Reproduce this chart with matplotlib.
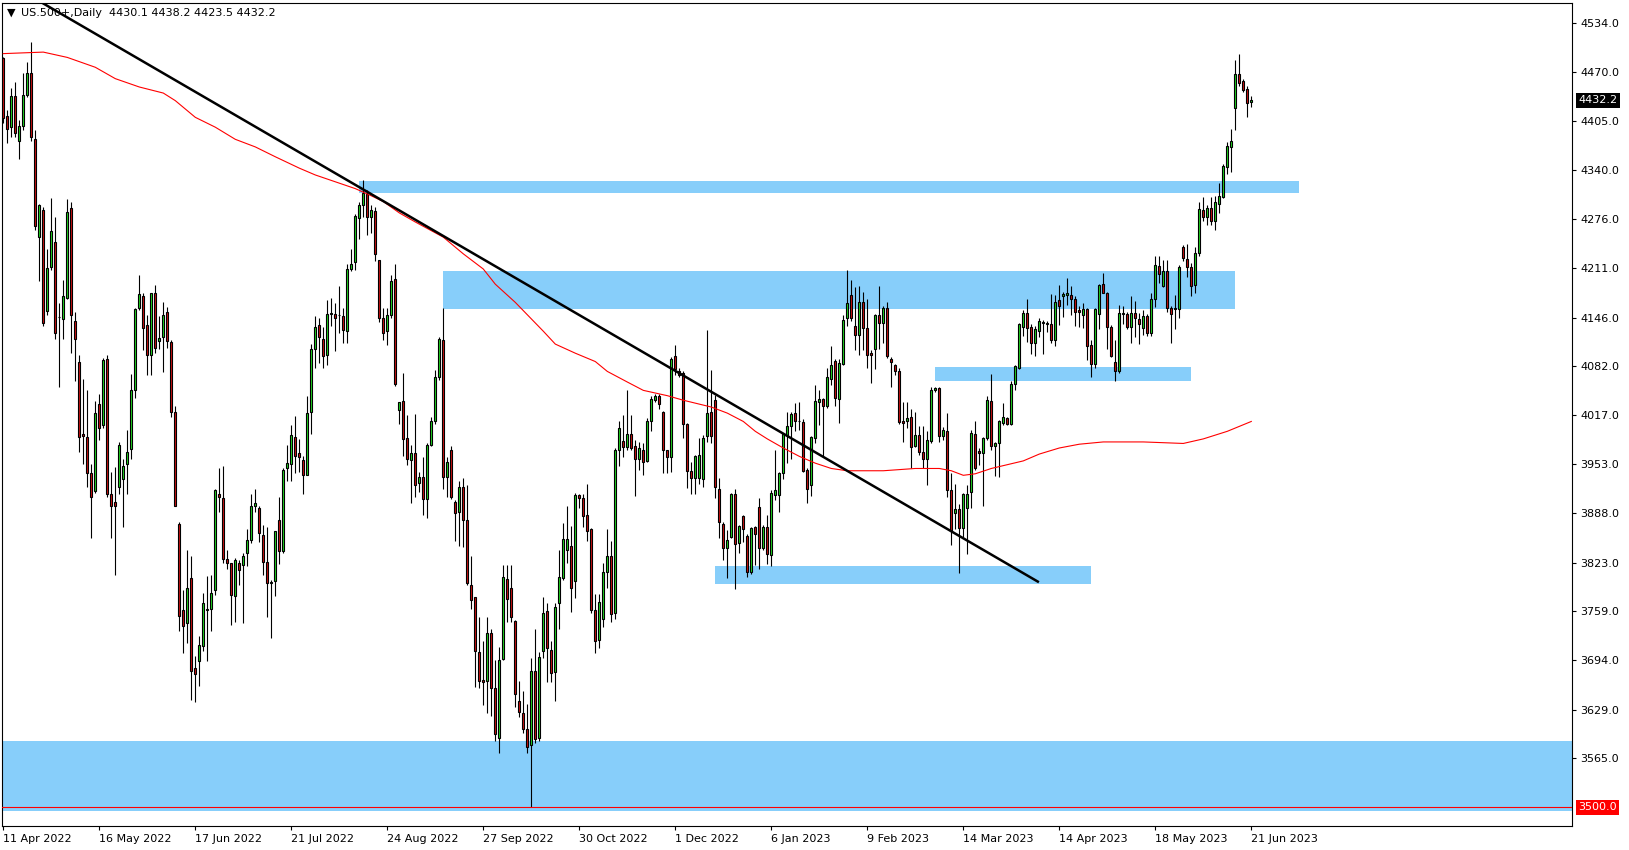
import matplotlib
matplotlib.use("Agg")
import matplotlib.pyplot as plt
import numpy as np
from matplotlib.patches import Rectangle
from matplotlib.transforms import blended_transform_factory

# ---------------- data ----------------
opens = [
    4488, 4412, 4397, 4438, 4379, 4399, 4439, 4469, 4382, 4252,
    4288, 4154, 4213, 4246, 4147, 4144, 4172, 4291, 4142, 4088,
    3993, 3989, 3941, 3917, 4032, 4004, 4092, 3914, 3903, 3923,
    3933, 3953, 3973, 4050, 4158, 4175, 4136, 4097, 4179, 4115,
    4120, 4153, 4114, 4022, 3874, 3760, 3743, 3802, 3684, 3693,
    3713, 3761, 3762, 3787, 3914, 3908, 3827, 3822, 3779, 3822,
    3820, 3836, 3853, 3898, 3895, 3859, 3824, 3796, 3798, 3879,
    3838, 3947, 3953, 3988, 3967, 3958, 3939, 4021, 4105, 4136,
    4118, 4096, 4151, 4151, 4150, 4148, 4128, 4210, 4219, 4277,
    4295, 4309, 4279, 4287, 4222, 4146, 4128, 4149, 4197, 4024,
    4036, 3987, 3958, 3967, 3928, 3936, 3907, 3978, 4009, 4067,
    4117, 3936, 3971, 3903, 3890, 3922, 3879, 3793, 3777, 3705,
    3668, 3667, 3730, 3658, 3592, 3696, 3801, 3790, 3746, 3640,
    3624, 3603, 3582, 3680, 3592, 3707, 3759, 3708, 3678, 3770,
    3803, 3840, 3845, 3798, 3912, 3908, 3886, 3867, 3760, 3721,
    3749, 3811, 3831, 3757, 3972, 3983, 3975, 3992, 3976, 3960,
    3972, 3957, 4010, 4037, 4043, 4021, 3971, 3962, 4095, 4076,
    4073, 4005, 3944, 3935, 3935, 3933, 3990, 4022, 4037, 3920,
    3874, 3842, 3856, 3914, 3849, 3884, 3858, 3811, 3870, 3896,
    3842, 3870, 3833, 3912, 3912, 3941, 3991, 4003, 4020, 4010,
    4008, 3945, 3925, 3987, 4035, 4038, 4029, 4065, 4089, 4038,
    4085, 4145, 4176, 4135, 4123, 4166, 4132, 4099, 4104, 4149,
    4139, 4158, 4092, 4083, 4076, 4009, 4009, 4015, 3976, 3991,
    3969, 3959, 3983, 4050, 4053, 3990, 3996, 3919, 3888, 3893,
    3869, 3895, 3916, 3993, 3970, 3967, 3987, 4036, 3977, 3981,
    4007, 4014, 4006, 4058, 4080, 4134, 4152, 4133, 4113, 4128,
    4139, 4138, 4138, 4117, 4169, 4174, 4176, 4176, 4171, 4156,
    4149, 4157, 4110, 4085, 4151, 4190, 4179, 4133, 4087, 4076,
    4151, 4151, 4133, 4152, 4144, 4132, 4148, 4125, 4170, 4214,
    4188, 4208, 4158, 4158, 4157, 4239, 4223, 4212, 4189, 4231,
    4288, 4279, 4291, 4273, 4296, 4305, 4344, 4371, 4422, 4467,
    4458, 4448, 4430.1,
]
highs = [
    4490, 4420, 4449, 4456, 4406, 4468, 4483, 4509, 4393, 4296,
    4292, 4236, 4303, 4278, 4165, 4195, 4302, 4299, 4153, 4097,
    4065, 4050, 3953, 4036, 4045, 4093, 4096, 3943, 3949, 3982,
    3960, 3998, 4072, 4159, 4202, 4179, 4150, 4179, 4189, 4148,
    4166, 4160, 4116, 4030, 3876, 3787, 3840, 3832, 3700, 3726,
    3783, 3805, 3806, 3920, 3947, 3950, 3840, 3823, 3829, 3826,
    3835, 3867, 3913, 3920, 3898, 3872, 3870, 3800, 3865, 3910,
    3948, 3978, 4004, 4016, 3986, 3964, 4042, 4111, 4148, 4146,
    4133, 4169, 4172, 4165, 4188, 4158, 4216, 4236, 4282, 4299,
    4328, 4314, 4295, 4292, 4222, 4158, 4158, 4202, 4217, 4035,
    4073, 4017, 3978, 4019, 3943, 3962, 3981, 4015, 4077, 4121,
    4158, 3962, 3977, 3905, 3930, 3934, 3925, 3832, 3777, 3751,
    3719, 3751, 3735, 3694, 3711, 3820, 3820, 3820, 3747, 3667,
    3654, 3637, 3697, 3735, 3705, 3778, 3770, 3719, 3770, 3839,
    3875, 3898, 3871, 3915, 3914, 3914, 3927, 3868, 3782, 3782,
    3822, 3867, 3851, 3974, 4010, 4018, 4051, 4018, 3985, 3982,
    3980, 4013, 4042, 4045, 4045, 4023, 3971, 4094, 4110, 4079,
    4075, 4007, 3956, 3965, 3987, 3991, 4130, 4077, 4044, 3934,
    3877, 3866, 3915, 3920, 3873, 3886, 3861, 3870, 3871, 3908,
    3872, 3886, 3918, 3972, 3943, 3994, 4021, 4022, 4033, 4034,
    4012, 3947, 3990, 4057, 4050, 4040, 4080, 4109, 4092, 4092,
    4149, 4209, 4195, 4186, 4188, 4180, 4170, 4103, 4151, 4187,
    4161, 4167, 4094, 4085, 4079, 4034, 4034, 4025, 4022, 4003,
    4003, 3996, 4054, 4054, 4055, 4002, 4020, 3941, 3927, 3900,
    3915, 3925, 3998, 4009, 3974, 3989, 4043, 4072, 3982, 4011,
    4033, 4015, 4062, 4083, 4139, 4156, 4171, 4137, 4135, 4145,
    4143, 4142, 4177, 4176, 4189, 4180, 4198, 4188, 4174, 4161,
    4165, 4158, 4117, 4158, 4190, 4205, 4180, 4136, 4117, 4163,
    4161, 4153, 4174, 4168, 4152, 4156, 4151, 4178, 4227, 4227,
    4222, 4222, 4161, 4176, 4215, 4242, 4243, 4218, 4239, 4298,
    4305, 4294, 4305, 4306, 4324, 4348, 4378, 4394, 4486, 4494,
    4461, 4451, 4438.2,
]
lows = [
    4403, 4376, 4384, 4384, 4355, 4393, 4437, 4379, 4261, 4194,
    4135, 4150, 4209, 4118, 4055, 4118, 4170, 4099, 4062, 3969,
    3953, 3923, 3855, 3915, 3985, 4000, 3910, 3855, 3807, 3913,
    3870, 3913, 3960, 4040, 4156, 4103, 4070, 4070, 4099, 4104,
    4074, 4106, 4015, 3897, 3733, 3704, 3717, 3642, 3639, 3660,
    3707, 3693, 3733, 3780, 3890, 3822, 3815, 3740, 3745, 3793,
    3743, 3819, 3849, 3890, 3850, 3806, 3751, 3723, 3779, 3821,
    3835, 3930, 3930, 3941, 3942, 3913, 3938, 3993, 4080, 4086,
    4080, 4083, 4135, 4102, 4126, 4112, 4113, 4207, 4209, 4249,
    4279, 4255, 4257, 4220, 4140, 4117, 4110, 4145, 4056, 4006,
    3964, 3952, 3902, 3910, 3916, 3886, 3882, 3976, 4006, 4064,
    3920, 3910, 3907, 3852, 3845, 3843, 3794, 3762, 3659, 3658,
    3635, 3625, 3621, 3588, 3572, 3694, 3745, 3745, 3633, 3619,
    3598, 3572, 3501, 3585, 3588, 3697, 3666, 3666, 3641, 3736,
    3800, 3823, 3758, 3776, 3895, 3870, 3852, 3756, 3704, 3710,
    3738, 3790, 3744, 3749, 3950, 3962, 3971, 3971, 3911, 3945,
    3938, 3956, 3997, 4035, 4025, 3941, 3941, 3943, 4070, 4068,
    3987, 3921, 3914, 3914, 3927, 3923, 3982, 3980, 3908, 3855,
    3826, 3803, 3855, 3788, 3836, 3850, 3804, 3808, 3820, 3814,
    3840, 3821, 3819, 3905, 3890, 3933, 3954, 3959, 3996, 3998,
    3943, 3901, 3911, 3980, 4004, 3962, 4027, 4057, 4029, 4007,
    4083, 4135, 4142, 4103, 4097, 4103, 4079, 4060, 4078, 4105,
    4112, 4093, 4055, 4070, 4005, 3982, 4000, 3947, 3975, 3965,
    3947, 3925, 3980, 4048, 3982, 3985, 3909, 3846, 3867, 3809,
    3856, 3834, 3895, 3945, 3952, 3897, 3985, 3971, 3937, 3936,
    4004, 4004, 4004, 4051, 4078, 4122, 4114, 4098, 4095, 4121,
    4098, 4127, 4113, 4109, 4136, 4147, 4163, 4150, 4135, 4134,
    4132, 4090, 4068, 4080, 4131, 4178, 4105, 4094, 4062, 4073,
    4138, 4131, 4112, 4121, 4111, 4123, 4122, 4122, 4160, 4191,
    4186, 4153, 4113, 4131, 4145, 4220, 4199, 4175, 4178, 4227,
    4273, 4268, 4268, 4262, 4284, 4303, 4335, 4338, 4393, 4451,
    4443, 4410, 4423.5,
]
closes = [
    4409, 4394, 4438, 4389, 4398, 4440, 4468, 4384, 4267, 4294,
    4139, 4211, 4260, 4126, 4147, 4174, 4285, 4150, 4118, 3989,
    3990, 3941, 3909, 4020, 4000, 4090, 3913, 3898, 3898, 3978,
    3950, 3969, 4050, 4157, 4177, 4132, 4096, 4178, 4106, 4119,
    4150, 4115, 4022, 3898, 3753, 3739, 3789, 3680, 3676, 3714,
    3769, 3762, 3783, 3918, 3909, 3827, 3822, 3780, 3826, 3813,
    3832, 3853, 3898, 3902, 3862, 3824, 3796, 3797, 3864, 3838,
    3945, 3954, 3991, 3964, 3962, 3938, 4020, 4105, 4133, 4121,
    4095, 4151, 4152, 4145, 4149, 4129, 4210, 4217, 4280, 4294,
    4310, 4279, 4288, 4230, 4146, 4126, 4149, 4194, 4058, 4034,
    3986, 3959, 3967, 3925, 3936, 3907, 3978, 4010, 4067, 4118,
    3936, 3956, 3910, 3888, 3923, 3879, 3796, 3773, 3706, 3667,
    3665, 3730, 3658, 3597, 3694, 3804, 3775, 3751, 3650, 3626,
    3604, 3580, 3680, 3590, 3699, 3757, 3710, 3677, 3765, 3804,
    3854, 3854, 3790, 3912, 3908, 3885, 3865, 3760, 3720, 3771,
    3811, 3832, 3755, 3972, 4001, 3975, 3993, 3974, 3960, 3974,
    3956, 4010, 4038, 4043, 4032, 3971, 3962, 4092, 4078, 4070,
    4005, 3944, 3934, 3963, 3965, 3987, 4020, 3990, 3922, 3877,
    3842, 3853, 3913, 3847, 3871, 3867, 3811, 3868, 3861, 3842,
    3870, 3834, 3915, 3918, 3941, 3993, 4003, 4019, 4009, 4009,
    3944, 3920, 3988, 4036, 4038, 4029, 4067, 4083, 4040, 4086,
    4143, 4165, 4146, 4123, 4166, 4132, 4097, 4097, 4149, 4139,
    4158, 4095, 4087, 4076, 4008, 4007, 4014, 3975, 3991, 3969,
    3960, 3984, 4050, 4053, 3990, 3998, 3919, 3864, 3893, 3869,
    3914, 3914, 3994, 3947, 3967, 3987, 4037, 3977, 3981, 4009,
    4015, 4006, 4058, 4082, 4138, 4152, 4132, 4113, 4131, 4141,
    4140, 4139, 4116, 4167, 4161, 4177, 4178, 4171, 4153, 4153,
    4157, 4109, 4085, 4157, 4189, 4179, 4133, 4095, 4075, 4152,
    4152, 4134, 4152, 4145, 4138, 4148, 4126, 4170, 4215, 4204,
    4208, 4158, 4151, 4157, 4212, 4224, 4213, 4188, 4231, 4289,
    4279, 4291, 4273, 4298, 4306, 4346, 4372, 4379, 4467, 4455,
    4446, 4429, 4432.2,
]

# moving-average line, read at selected bars (bar index, price)
ma_idx = [0, 10, 16, 23, 28, 34, 40, 43, 48, 53, 58, 63, 68, 74, 78, 83, 88,
          91, 95, 99, 103, 110, 115, 120, 123, 128, 135, 138, 143, 148, 151,
          156, 160, 166, 170, 177, 181, 185, 188, 191, 195, 199, 203, 207,
          211, 220, 228, 234, 237, 240, 243, 247, 251, 255, 259, 264, 269,
          275, 285, 295, 300, 306, 312]
ma_val = [4494, 4496, 4489, 4476, 4461, 4450, 4442, 4432, 4410, 4397, 4381,
          4371, 4358, 4343, 4334, 4325, 4316, 4309, 4299, 4284, 4272, 4252,
          4230, 4210, 4190, 4166, 4128, 4111, 4099, 4088, 4075, 4061, 4050,
          4043, 4037, 4028, 4020, 4009, 3996, 3986, 3974, 3963, 3954, 3947,
          3944, 3944, 3947, 3947, 3944, 3938, 3940, 3947, 3952, 3957, 3966,
          3974, 3979, 3982, 3982, 3980, 3986, 3996, 4009]

# trend line endpoints (bar index, price)
trend_idx = [-20, 258.9]
trend_val = [4652.1, 3797]

# zones: (start bar, end bar, low price, high price)
zone_start = [-2, 89, 110, 233, 178]
zone_end = [420, 324, 308, 297, 272]
zone_low = [3496, 4310.5, 4157, 4063, 3795]
zone_high = [3587.5, 4326, 4207.5, 4081, 3818]

level_price = 3500.0
last_price = 4432.2

ytick_vals = [4534, 4470, 4405, 4340, 4276, 4211, 4146, 4082, 4017, 3953,
              3888, 3823, 3759, 3694, 3629, 3565]
xtick_idx = [0, 24, 48, 72, 96, 120, 144, 168, 192, 216, 240, 264, 288, 312]
xtick_labels = ["11 Apr 2022", "16 May 2022", "17 Jun 2022", "21 Jul 2022",
                "24 Aug 2022", "27 Sep 2022", "30 Oct 2022", "1 Dec 2022",
                "6 Jan 2023", "9 Feb 2023", "14 Mar 2023", "14 Apr 2023",
                "18 May 2023", "21 Jun 2023"]

title_text = "US.500+,Daily  4430.1 4438.2 4423.5 4432.2"

# ---------------- drawing ----------------
W, H, DPI = 1629, 850, 100
GREEN = "#22D822"
RED = "#CC1111"
ZONE = "#87CEFA"

plt.rcParams["font.family"] = ["DejaVu Sans"]
fig = plt.figure(figsize=(W / DPI, H / DPI), dpi=DPI)
fig.patch.set_facecolor("white")
ax = fig.add_axes([2 / W, 24 / H, 1570 / W, 823.5 / H])
ax.set_xlim(-0.325, 392.175)
ax.set_ylim(3475.6, 4561.4)

for xs, xe, lo, hi in zip(zone_start, zone_end, zone_low, zone_high):
    ax.add_patch(Rectangle((xs, lo), xe - xs, hi - lo, facecolor=ZONE,
                           edgecolor="none", zorder=1))

O = np.array(opens, float)
Hh = np.array(highs, float)
L = np.array(lows, float)
C = np.array(closes, float)
n = min(len(O), len(Hh), len(L), len(C))
O, Hh, L, C = O[:n], Hh[:n], L[:n], C[:n]
x = np.arange(n)
cols = np.where(C >= O, GREEN, RED)

ax.vlines(x, L, Hh, colors="black", linewidth=0.8, zorder=3)
ax.bar(x, np.abs(C - O), bottom=np.minimum(O, C), width=0.55, color=cols,
       edgecolor="black", linewidth=0.8, zorder=4)

ax.axhline(level_price, color="red", linewidth=0.8, zorder=5)
ax.plot(ma_idx, ma_val, color="red", linewidth=0.8, zorder=5)
ax.plot(trend_idx, trend_val, color="black", linewidth=1.8, zorder=6,
        solid_capstyle="butt")

for sp in ax.spines.values():
    sp.set_linewidth(0.8)
    sp.set_color("black")

ax.yaxis.tick_right()
ax.set_yticks(ytick_vals)
ax.set_yticklabels([f"{v:.1f}" for v in ytick_vals])
ax.tick_params(axis="y", direction="out", length=3, width=0.8, pad=3,
               labelsize=8, colors="black")
ax.set_xticks(xtick_idx)
ax.set_xticklabels(xtick_labels)
ax.tick_params(axis="x", direction="out", length=3, width=0.8, pad=2.5,
               labelsize=8, colors="black")
for lbl in ax.get_xticklabels():
    lbl.set_horizontalalignment("left")

trans = blended_transform_factory(fig.transFigure, ax.transData)
ax.text(1578 / W, last_price, f"{last_price:.1f}", transform=trans,
        color="white", fontsize=8, va="center", ha="left", clip_on=False,
        bbox=dict(boxstyle="square,pad=0.22", fc="black", ec="none"))
ax.text(1578 / W, level_price, f"{level_price:.1f}", transform=trans,
        color="white", fontsize=8, va="center", ha="left", clip_on=False,
        bbox=dict(boxstyle="square,pad=0.22", fc="red", ec="none"))

fig.text(11 / W, 1 - 12.5 / H, "\u25BC", ha="center", va="center",
         fontsize=8, color="black")
fig.text(21 / W, 1 - 13 / H, title_text, ha="left", va="center",
         fontsize=8, color="black")

fig.savefig("out.png", dpi=DPI, facecolor="white")
